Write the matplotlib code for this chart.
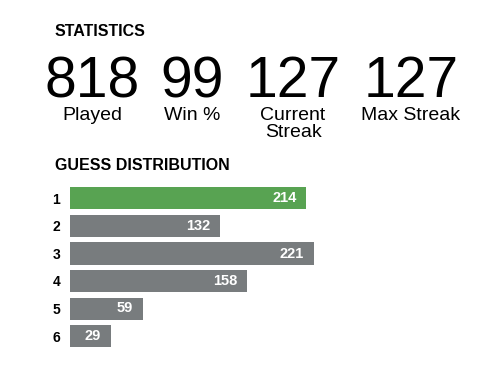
import matplotlib
matplotlib.use('Agg')
import matplotlib.pyplot as plt

# data
stat_values = [818, 99, 127, 127]
stat_labels = ['Played', 'Win %', 'Current\nStreak', 'Max Streak']
guess_labels = ['1', '2', '3', '4', '5', '6']
guess_counts = [214, 132, 221, 158, 59, 29]
highlight = 0  # the row drawn green

GREEN = '#58a352'
GREY = '#787c7e'
W, H = 490, 370

plt.rcParams['font.family'] = ['Liberation Sans', 'DejaVu Sans']

fig = plt.figure(figsize=(W / 100, H / 100), dpi=100)
fig.patch.set_facecolor('white')


def fx(px):
    return px / W


def fy(py):
    return (H - py) / H


# headers
fig.text(fx(55), fy(32), 'STATISTICS', fontsize=11.5, fontweight='bold',
         ha='left', va='center')
fig.text(fx(55), fy(165), 'GUESS DISTRIBUTION', fontsize=11.5, fontweight='bold',
         ha='left', va='center')

# big numbers with their captions
centers = [92, 192, 293, 411]
for cx, val, lab in zip(centers, stat_values, stat_labels):
    fig.text(fx(cx), fy(97), str(val), fontsize=41, ha='center', va='baseline')
    fig.text(fx(cx), fy(107), lab, fontsize=14, ha='center', va='top',
             linespacing=1.0, multialignment='center')

# distribution bars, each one has a minimum width of `pad` before the count
pad = 9.7
ax = fig.add_axes([fx(70), fy(349.75), fx(327), 165 / H])
ypos = list(range(len(guess_counts)))
colors = [GREEN if i == highlight else GREY for i in ypos]
ax.barh(ypos, [c + pad for c in guess_counts], left=-pad, height=0.8, color=colors)
ax.set_xlim(-pad, 300)
ax.set_ylim(5.5, -0.5)
for i, c in zip(ypos, guess_counts):
    ax.annotate(str(c), (c, i), xytext=(-7, 0), textcoords='offset points',
                ha='right', va='center', color='white', fontsize=10.5,
                fontweight='bold')
ax.set_yticks(ypos)
ax.set_yticklabels(guess_labels, fontsize=10, fontweight='bold')
ax.tick_params(axis='y', length=0, pad=7)
ax.set_xticks([])
for s in ax.spines.values():
    s.set_visible(False)

fig.savefig('out.png', dpi=100)
